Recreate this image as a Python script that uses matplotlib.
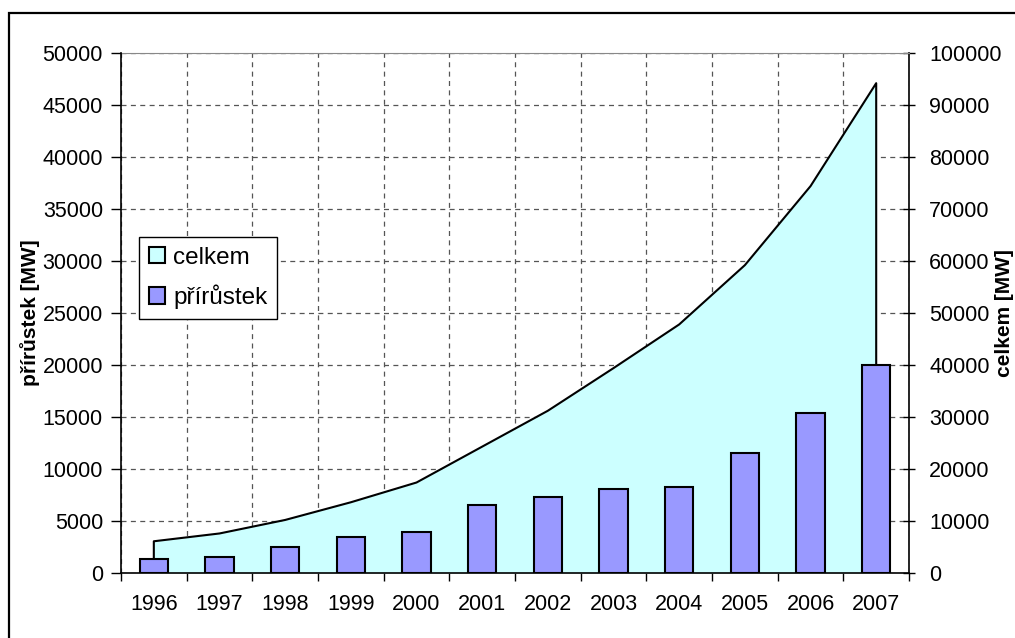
import numpy as np
import matplotlib
matplotlib.use("Agg")
import matplotlib.pyplot as plt
from matplotlib.patches import Patch, Rectangle

# data
roky = ["1996", "1997", "1998", "1999", "2000", "2001",
        "2002", "2003", "2004", "2005", "2006", "2007"]
prirustek = [1300, 1500, 2500, 3450, 3900, 6550, 7300, 8100, 8300, 11550, 15400, 20000]
celkem = [6100, 7600, 10200, 13600, 17400, 24300, 31200, 39400, 47800, 59200, 74400, 94200]

plt.rcParams["font.family"] = ["Liberation Sans", "DejaVu Sans"]
plt.rcParams["font.size"] = 15.5

fig = plt.figure(figsize=(10.15, 6.38), dpi=100)

# back axes: celkem (right axis), grid lives here so the area hides it
ax2 = fig.add_axes([0.1192, 0.1019, 0.7764, 0.8150])
x = np.arange(len(roky))
ax2.fill_between(x, celkem, 0, color="#CCFFFF", lw=0, zorder=1)
ax2.plot(np.r_[x[0], x, x[-1]], np.r_[0, celkem, 0], color="black", lw=1.5, zorder=2)
ax2.set_xlim(-0.5, len(roky) - 0.5)
ax2.set_ylim(0, 100000)

# front axes: přírůstek bars (left axis)
ax = ax2.twinx()
ax.yaxis.tick_left()
ax.yaxis.set_label_position("left")
ax2.yaxis.tick_right()
ax2.yaxis.set_label_position("right")

ax2.set_yticks(np.arange(0, 100001, 10000))
ax2.set_xticks(np.arange(len(roky) + 1) - 0.5, labels=[])
ax2.set_xticks(x, labels=roky, minor=True)
ax2.tick_params(axis="x", which="major", direction="out", length=6, width=1)
ax2.tick_params(axis="x", which="minor", length=0, pad=15)
ax2.tick_params(axis="y", direction="inout", length=9, width=1, pad=10)
ax2.grid(True, which="major", linestyle=(0, (4, 3.5)), color="#555555", lw=0.9)
ax2.set_axisbelow(True)
ax2.spines["top"].set_color("#888888")
ax2.spines["left"].set_visible(False)
ax2.spines["right"].set_linewidth(1.2)
ax2.spines["bottom"].set_linewidth(1.2)

ax.patch.set_visible(False)
ax.bar(x, prirustek, width=0.43, color="#9999FF", edgecolor="black", lw=1.5, zorder=3)
ax.set_ylim(0, 50000)
ax.set_yticks(np.arange(0, 50001, 5000))
ax.tick_params(axis="y", direction="out", length=7, width=1, pad=6)
for s in ["top", "right", "bottom"]:
    ax.spines[s].set_visible(False)
ax.spines["left"].set_linewidth(1.2)

fig.text(30 / 1015, 1 - 313 / 638, "přírůstek [MW]", rotation=90, fontsize=15,
         ha="center", va="center", fontweight="bold")
fig.text(1004 / 1015, 1 - 313 / 638, "celkem [MW]", rotation=90, fontsize=15,
         ha="center", va="center", fontweight="bold")

handles = [Patch(facecolor="#CCFFFF", edgecolor="black", lw=1.5),
           Patch(facecolor="#9999FF", edgecolor="black", lw=1.5)]
leg = fig.legend(handles, ["celkem", "přírůstek"], loc="upper left",
                 bbox_to_anchor=(139 / 1015, 1 - 237 / 638), fontsize=17.5,
                 fancybox=False, framealpha=1, edgecolor="black",
                 handlelength=0.65, handleheight=0.65, handletextpad=0.35,
                 labelspacing=0.65, borderpad=0.4, borderaxespad=0)
leg.get_frame().set_linewidth(1)

# chart border (only left and top edges visible in the original)
fig.add_artist(Rectangle((9 / 1015, -0.1), 1.2, 1.1 - 13 / 638, fill=False,
                         lw=1.6, edgecolor="black", transform=fig.transFigure,
                         clip_on=False))

fig.savefig("out.png", dpi=100)
